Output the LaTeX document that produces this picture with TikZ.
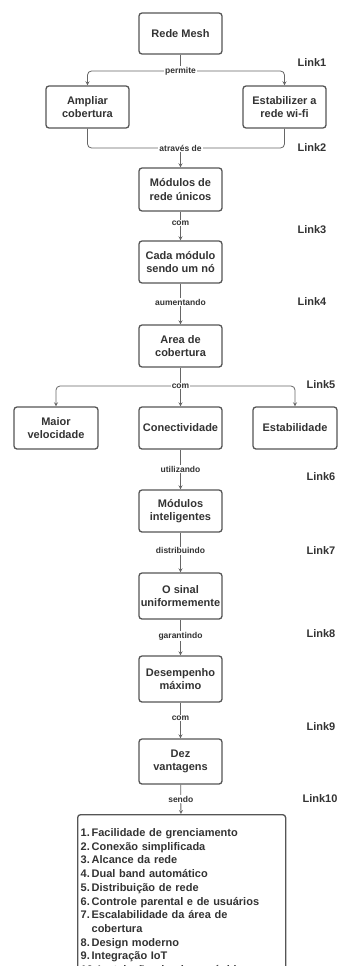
\documentclass[tikz,border=0pt]{standalone}
\usepackage{fontspec}
\setmainfont{Liberation Sans}
\definecolor{boxline}{HTML}{555555}
\definecolor{linkline}{HTML}{666666}
\definecolor{txt}{HTML}{333333}
\begin{document}
\begin{tikzpicture}[x=1pt, y=-1pt, >=stealth,
    box/.style={draw=boxline, line width=1.3pt, rounded corners=3pt, fill=white, text=txt,
        minimum width=83pt, minimum height=42pt, inner xsep=1pt, align=center,
        font=\bfseries\fontsize{11}{13.5}\selectfont},
    conn/.style={draw=linkline, line width=0.8pt},
    lbl/.style={fill=white, inner sep=1pt, text=txt, font=\bfseries\fontsize{8.5}{10}\selectfont},
    tag/.style={anchor=west, text=txt, font=\bfseries\fontsize{11}{13}\selectfont}]
    \clip (0,0) rectangle (339,966);
    \fill[white] (0,0) rectangle (339,966);

    % caixas
    \node[box, minimum height=41pt] (mesh) at (180.5, 33.5) {Rede Mesh};
    \node[box] (amp) at (87.5, 107) {Ampliar\\cobertura};
    \node[box] (est) at (284.5, 107) {Estabilizer a\\rede wi-fi};
    \node[box, minimum height=43pt] (modr) at (180.5, 189.5) {Módulos de\\rede únicos};
    \node[box] (cada) at (180.5, 262) {Cada módulo\\sendo um nó};
    \node[box] (area) at (180.5, 346) {Area de\\cobertura};
    \node[box, minimum width=84pt] (maior) at (56, 428) {Maior\\velocidade};
    \node[box] (conec) at (180.5, 428) {Conectividade};
    \node[box, minimum width=84pt] (estab) at (295, 428) {Estabilidade};
    \node[box] (modi) at (180.5, 511) {Módulos\\inteligentes};
    \node[box, minimum height=46pt] (sinal) at (180.5, 596) {O sinal\\uniformemente};
    \node[box, minimum height=46pt] (desemp) at (180.5, 679) {Desempenho\\máximo};
    \node[box, minimum height=45pt] (dez) at (180.5, 761.5) {Dez\\vantagens};
    \node[box, anchor=north west, minimum width=208pt, minimum height=175pt,
        text width=202pt, inner xsep=3pt, inner ysep=2pt, align=left,
        font=\bfseries\fontsize{11}{13.7}\selectfont] (lista) at (77, 814) {%
        1.\,Facilidade de grenciamento\\
        2.\,Conexão simplificada\\
        3.\,Alcance da rede\\
        4.\,Dual band automático\\
        5.\,Distribuição de rede\\
        6.\,Controle parental e de usuários\\
        7.\,Escalabilidade da área de\\
        \phantom{7.\,}cobertura\\
        8.\,Design moderno\\
        9.\,Integração IoT\\
        10.\,Instalação simples e rápida};

    % ramificacoes
    \coordinate (j1) at (180.5, 71);
    \draw[conn] (mesh) -- (j1);
    \draw[conn, ->, rounded corners=4pt] (j1) -| (amp);
    \draw[conn, ->, rounded corners=4pt] (j1) -| (est);
    \node[lbl] (l1) at (j1) {permite};

    \coordinate (j2) at (180.5, 148);
    \draw[conn, rounded corners=4pt] (amp) |- (j2);
    \draw[conn, rounded corners=4pt] (est) |- (j2);
    \draw[conn, ->] (j2) -- (modr);
    \node[lbl] (l2) at (j2) {através de};

    \coordinate (j5) at (180.5, 386);
    \draw[conn] (area) -- (j5);
    \draw[conn, ->, rounded corners=4pt] (j5) -| (maior);
    \draw[conn, ->, rounded corners=4pt] (j5) -| (estab);
    \draw[conn, ->] (j5) -- (conec);
    \node[lbl] (l5) at (j5) {com};

    % ligacoes verticais
    \draw[conn, ->] (modr) -- node[lbl, pos=0.4] {com} (cada);
    \draw[conn, ->] (cada) -- node[lbl, pos=0.45] {aumentando} (area);
    \draw[conn, ->] (conec) -- node[lbl, pos=0.49] {utilizando} (modi);
    \draw[conn, ->] (modi) -- node[lbl, pos=0.46] {distribuindo} (sinal);
    \draw[conn, ->] (sinal) -- node[lbl, pos=0.46] {garantindo} (desemp);
    \draw[conn, ->] (desemp) -- node[lbl, pos=0.43] {com} (dez);
    \draw[conn, ->] (dez) -- node[lbl, pos=0.5] {sendo} (lista);

    % rotulos dos links
    \node[tag] (k1) at (294, 63) {Link1};
    \node[tag] (k2) at (294, 148) {Link2};
    \node[tag] (k3) at (294, 230) {Link3};
    \node[tag] (k4) at (294, 302) {Link4};
    \node[tag] (k5) at (303, 385) {Link5};
    \node[tag] (k6) at (303, 477) {Link6};
    \node[tag] (k7) at (303, 551) {Link7};
    \node[tag] (k8) at (303, 634) {Link8};
    \node[tag] (k9) at (303, 727) {Link9};
    \node[tag] (k10) at (299, 799) {Link10};
\end{tikzpicture}
\end{document}
